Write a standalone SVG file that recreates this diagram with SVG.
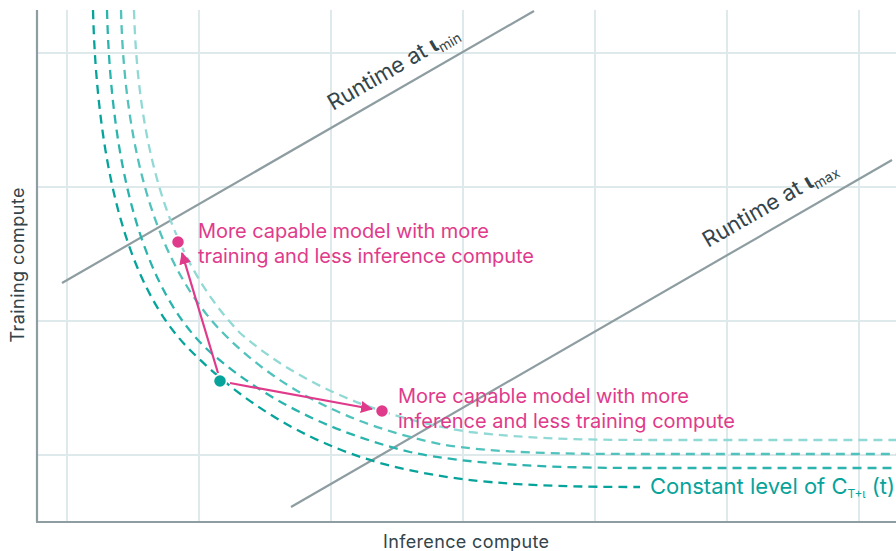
<svg xmlns="http://www.w3.org/2000/svg" width="896" height="551" viewBox="0 0 896 551">
  <style>
    .grid { stroke: #dde9ea; stroke-width: 2; fill: none; }
    .axis { stroke: #8e9da1; stroke-width: 2.2; fill: none; }
    .runtime { stroke: #8e9da1; stroke-width: 2.2; fill: none; }
    .iso { fill: none; stroke-width: 2.3; stroke-dasharray: 9 6; }
    .lbl { font-family: Inter, "Liberation Sans", sans-serif; }
    .dark { fill: #33444a; }
    .pink { fill: #e03b8b; }
    .teal { fill: #06a39b; }
    .arrow { stroke: #e03b8b; stroke-width: 2.2; fill: none; }
  </style>
  <defs>
    <marker id="head" viewBox="0 0 12 12" refX="11" refY="6" markerWidth="12" markerHeight="12" markerUnits="userSpaceOnUse" orient="auto">
      <path d="M0,0 L12,6 L0,12 Z" fill="#e03b8b"/>
    </marker>
    <clipPath id="plot">
      <rect x="38" y="10" width="858" height="511"/>
    </clipPath>
  </defs>

  <rect width="896" height="551" fill="#ffffff"/>

  <!-- grid -->
  <g id="grid" class="grid">
    <line x1="67" y1="10" x2="67" y2="521"/>
    <line x1="199" y1="10" x2="199" y2="521"/>
    <line x1="331" y1="10" x2="331" y2="521"/>
    <line x1="463" y1="10" x2="463" y2="521"/>
    <line x1="595" y1="10" x2="595" y2="521"/>
    <line x1="727" y1="10" x2="727" y2="521"/>
    <line x1="859" y1="10" x2="859" y2="521"/>
    <line x1="37" y1="53" x2="896" y2="53"/>
    <line x1="37" y1="187" x2="896" y2="187"/>
    <line x1="37" y1="321" x2="896" y2="321"/>
    <line x1="37" y1="455" x2="896" y2="455"/>
  </g>

  <!-- axes -->
  <g id="axes" class="axis">
    <line x1="37" y1="10" x2="37" y2="522"/>
    <line x1="36" y1="522" x2="896" y2="522"/>
  </g>

  <!-- runtime lines -->
  <g id="runtime-min">
    <line class="runtime" x1="62" y1="283" x2="534" y2="11"/>
    <text class="lbl dark" font-size="22" transform="translate(333,111) rotate(-30)">Runtime at <tspan font-weight="700">ι</tspan><tspan font-size="14" dy="4">min</tspan></text>
  </g>
  <g id="runtime-max">
    <line class="runtime" x1="291" y1="507" x2="892" y2="160"/>
    <text class="lbl dark" font-size="22" transform="translate(708,248) rotate(-30)">Runtime at <tspan font-weight="700">ι</tspan><tspan font-size="14" dy="4">max</tspan></text>
  </g>

  <!-- constant-capability curves -->
  <g id="iso-curves" clip-path="url(#plot)">
    <path class="iso" stroke="#90d9d5" d="M134,10 C138,150 170,260 240,333 C300,385 380,418 470,432 C540,440 600,440 680,440 L896,440"/>
    <path class="iso" stroke="#52c2bc" d="M121,10 C125,160 160,270 225,335 C280,390 350,425 440,444 C490,453 560,454 640,454 L896,454"/>
    <path class="iso" stroke="#2bb4ad" d="M107,10 C111,165 142,290 210,352 C265,400 330,432 410,452 C470,465 560,468 640,468 L896,468"/>
    <path class="iso" stroke="#06a39b" d="M93,10 C97,160 125,285 190,350 C240,400 300,440 380,463 C450,482 520,487 640,487"/>
  </g>

  <!-- connectors -->
  <g id="connectors">
    <line class="arrow" x1="218" y1="373" x2="182" y2="253" marker-end="url(#head)"/>
    <line class="arrow" x1="230" y1="383" x2="372" y2="409" marker-end="url(#head)"/>
  </g>

  <!-- nodes -->
  <g id="baseline-model">
    <circle cx="220" cy="381" r="6.5" fill="#06a39b" stroke="#ffffff" stroke-width="1.5"/>
  </g>
  <g id="more-training">
    <circle cx="178" cy="242" r="6.5" fill="#e03b8b" stroke="#ffffff" stroke-width="1.5"/>
    <text class="lbl pink" font-size="20">
      <tspan x="198" y="238" textLength="291" lengthAdjust="spacing">More capable model with more</tspan>
      <tspan x="198" y="263" textLength="336" lengthAdjust="spacing">training and less inference compute</tspan>
    </text>
  </g>
  <g id="more-inference">
    <circle cx="382" cy="411" r="6.5" fill="#e03b8b" stroke="#ffffff" stroke-width="1.5"/>
    <text class="lbl pink" font-size="20">
      <tspan x="398" y="403" textLength="291" lengthAdjust="spacing">More capable model with more</tspan>
      <tspan x="398" y="428" textLength="337" lengthAdjust="spacing">inference and less training compute</tspan>
    </text>
  </g>

  <!-- curve label -->
  <g id="curve-label">
    <text class="lbl teal" font-size="22" x="650" y="494">Constant level of C<tspan font-size="12" dy="4">T+ι</tspan><tspan dy="-4"> (t)</tspan></text>
  </g>

  <!-- axis labels -->
  <g id="axis-labels">
    <text class="lbl dark" font-size="18" x="466" y="548" text-anchor="middle" textLength="166" lengthAdjust="spacing">Inference compute</text>
    <text class="lbl dark" font-size="18" transform="translate(24,265) rotate(-90)" text-anchor="middle" textLength="155" lengthAdjust="spacing">Training compute</text>
  </g>
</svg>
